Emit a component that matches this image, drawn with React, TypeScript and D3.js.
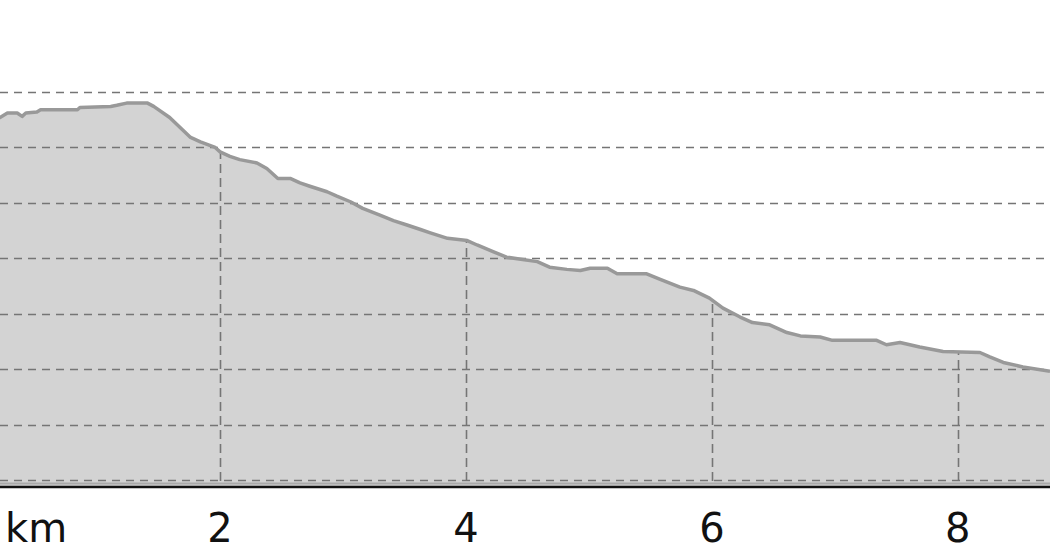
import React from "react";
import * as d3 from "d3";

// Elevation profile of the route: distance along the track (km) and altitude (m)
const distanceKm = [
  0.0, 0.21, 0.27, 0.35, 0.39, 0.42, 0.51, 0.54, 0.84, 0.86, 1.11, 1.16, 1.24, 1.41, 1.46,
  1.59, 1.76, 1.84, 1.96, 2.0, 2.08, 2.16, 2.3, 2.38, 2.47, 2.57, 2.65, 2.73, 2.87, 2.95,
  3.06, 3.16, 3.3, 3.41, 3.52, 3.63, 3.71, 3.85, 4.01, 4.09, 4.22, 4.33, 4.46, 4.58, 4.68,
  4.82, 4.93, 5.01, 5.15, 5.23, 5.47, 5.58, 5.74, 5.85, 5.98, 6.09, 6.23, 6.33, 6.47, 6.61,
  6.72, 6.88, 6.98, 7.34, 7.42, 7.53, 7.69, 7.88, 8.18, 8.26, 8.37, 8.53, 8.75,
];
const elevationM = [
  726, 727, 731, 731, 728, 731, 732, 734, 734, 736, 737, 738, 740, 740, 737,
  727, 709, 705, 700, 696, 692, 689, 686, 681, 672, 672, 668, 665, 660, 656,
  651, 645, 639, 634, 630, 626, 623, 618, 616, 612, 606, 601, 599, 597, 592,
  590, 589, 591, 591, 586, 586, 581, 574, 571, 564, 555, 547, 542, 540, 533,
  530, 529, 526, 526, 522, 524, 520, 516, 515, 511, 506, 502, 498,
];

// Axis labels
const distanceTicks = [2, 4, 6, 8];
const distanceUnit = "km";
const elevationGrid = [400, 450, 500, 550, 600, 650, 700, 750];

const WIDTH = 1050;
const HEIGHT = 560;

export default function App() {
  const points = distanceKm.map((d, i) => ({ d, e: elevationM[i] }));

  // visible window of the profile
  const x = d3.scaleLinear().domain([0.21, 8.75]).range([0, WIDTH]);
  const y = d3.scaleLinear().domain([400, 750]).range([480, 92]);
  const baseY = 487;

  const area = d3
    .area<{ d: number; e: number }>()
    .x((p) => x(p.d))
    .y0(baseY)
    .y1((p) => y(p.e));
  const line = d3
    .line<{ d: number; e: number }>()
    .x((p) => x(p.d))
    .y((p) => y(p.e));

  const areaPath = area(points) || "";
  const linePath = line(points) || "";

  return (
    <svg
      width={WIDTH}
      height={HEIGHT}
      style={{ position: "absolute", left: 0, top: 0, background: "#fff", fontFamily: "'DejaVu Sans', sans-serif" }}
    >
      <defs>
        <clipPath id="profile-clip">
          <path d={areaPath} />
        </clipPath>
      </defs>

      <path d={areaPath} fill="#d3d3d3" />

      {/* distance grid, only under the profile */}
      <g clipPath="url(#profile-clip)">
        {distanceTicks.map((t) => (
          <line
            key={t}
            x1={Math.round(x(t)) + 0.5}
            x2={Math.round(x(t)) + 0.5}
            y1={80}
            y2={baseY}
            stroke="#757575"
            strokeWidth={1.6}
            strokeDasharray="9,5"
          />
        ))}
      </g>

      {/* elevation grid */}
      {elevationGrid.map((v) => (
        <line
          key={v}
          x1={0}
          x2={WIDTH}
          y1={Math.round(y(v)) + 0.5}
          y2={Math.round(y(v)) + 0.5}
          stroke="#757575"
          strokeWidth={1.6}
          strokeDasharray="8,6"
        />
      ))}

      <path d={linePath} fill="none" stroke="#999" strokeWidth={3.5} strokeLinejoin="round" />

      {/* base of the profile and axis line */}
      <line x1={0} x2={WIDTH} y1={483.5} y2={483.5} stroke="#aaa" strokeWidth={2} />
      <line x1={0} x2={WIDTH} y1={487} y2={487} stroke="#111" strokeWidth={2.5} />

      <text x={5} y={542} fontSize={40} fill="#111">
        {distanceUnit}
      </text>
      {distanceTicks.map((t) => (
        <text key={t} x={x(t)} y={542} fontSize={40} fill="#111" textAnchor="middle">
          {t}
        </text>
      ))}
    </svg>
  );
}
